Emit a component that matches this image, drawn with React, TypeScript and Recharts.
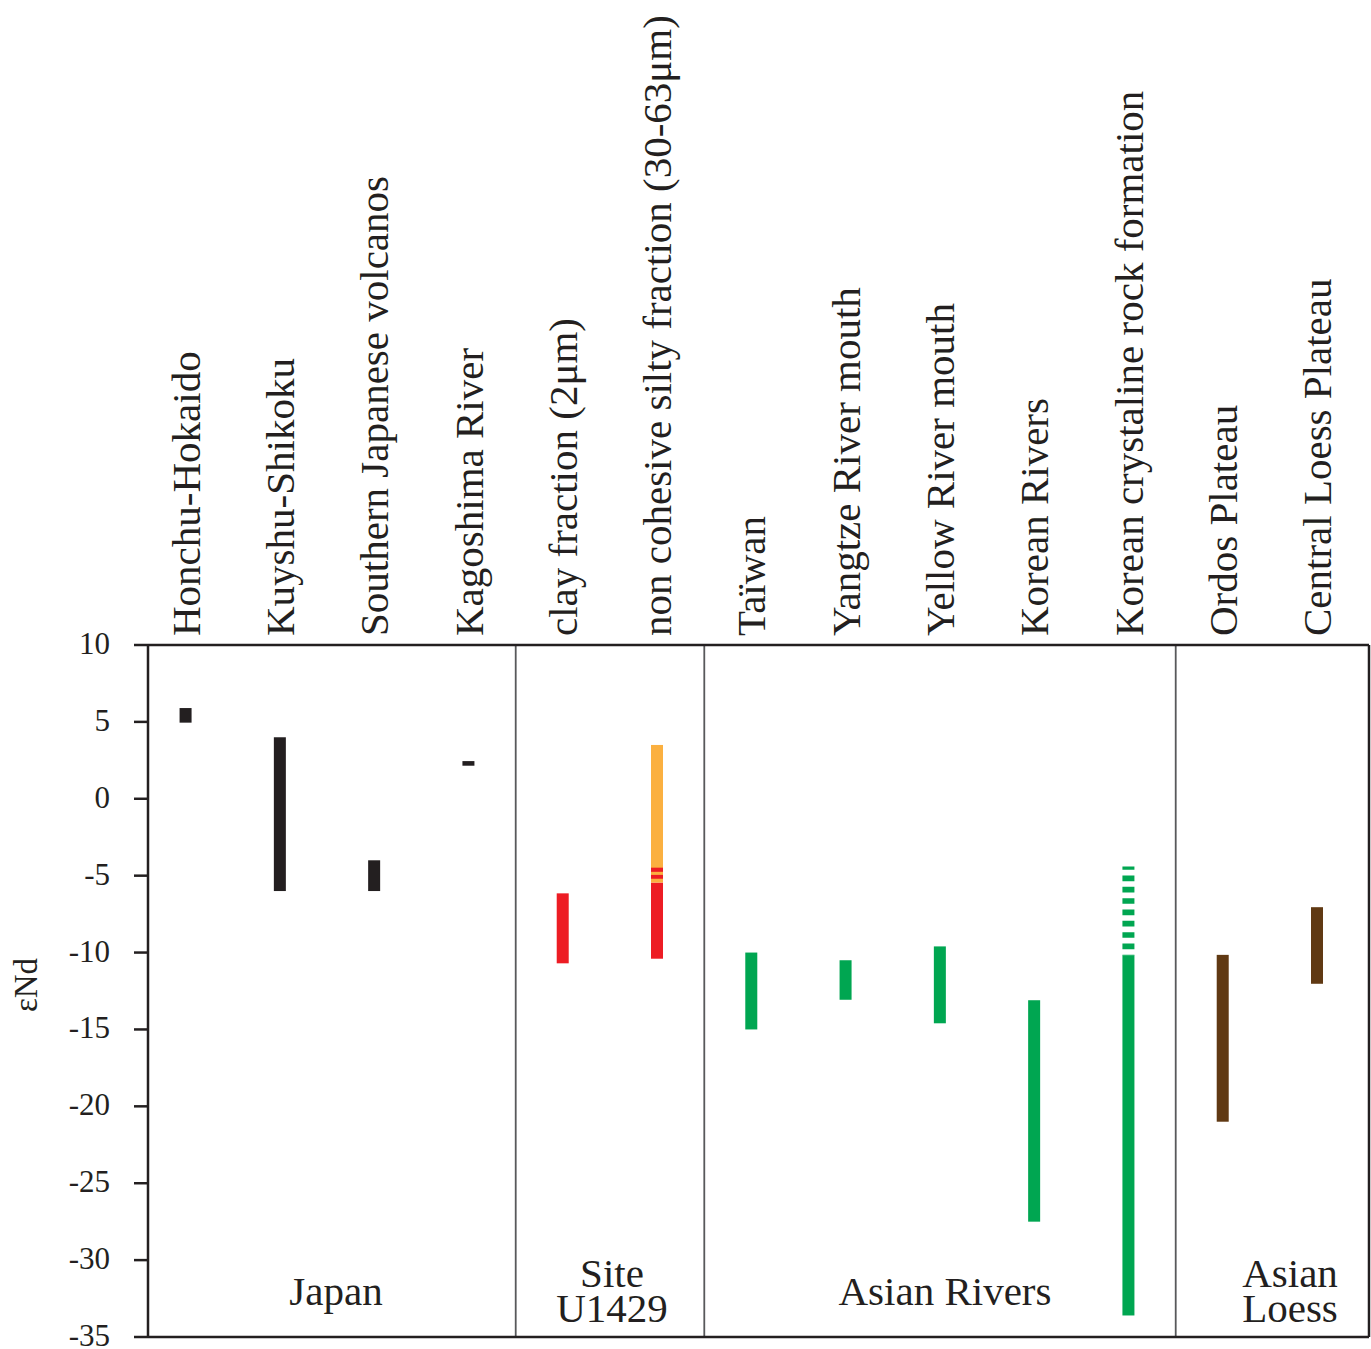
import { Bar, ComposedChart, ReferenceLine, XAxis, YAxis } from "recharts";

const categories = [
  "Honchu-Hokaido",
  "Kuyshu-Shikoku",
  "Southern Japanese volcanos",
  "Kagoshima River",
  "clay fraction (2μm)",
  "non cohesive silty fraction (30-63μm)",
  "Taïwan",
  "Yangtze River mouth",
  "Yellow River mouth",
  "Korean Rivers",
  "Korean crystaline rock formation",
  "Ordos Plateau",
  "Central Loess Plateau",
];

// solid part of each range (εNd)
const lows = [4.95, -6, -6, 2.15, -10.7, -10.4, -15, -13.07, -14.6, -27.5, -33.6, -21, -12.03];
const highs = [5.9, 4, -4, 2.45, -6.15, -5.45, -10, -10.5, -9.6, -13.1, -10.2, -10.15, -7.05];

const BLACK = "#231f20";
const RED = "#ed1c24";
const ORANGE = "#fbb040";
const GREEN = "#00a651";
const BROWN = "#603913";

const barColors = [
  BLACK, BLACK, BLACK, BLACK,
  RED, RED,
  GREEN, GREEN, GREEN, GREEN, GREEN,
  BROWN, BROWN,
];

// extra segments (only some categories have them)
const orangeSeg: ([number, number] | null)[] = [null, null, null, null, null, [-5.45, 3.5], null, null, null, null, null, null, null];
const stripeA: ([number, number] | null)[] = [null, null, null, null, null, [-4.75, -4.48], null, null, null, null, null, null, null];
const stripeB: ([number, number] | null)[] = [null, null, null, null, null, [-5.2, -4.95], null, null, null, null, null, null, null];
const dashedSeg: ([number, number] | null)[] = [null, null, null, null, null, null, null, null, null, null, [-10.2, -4.4], null, null];

const yTicks = [10, 5, 0, -5, -10, -15, -20, -25, -30, -35];
const xTicks = categories.map((_, i) => i);
const dividers = [3.5, 5.5, 10.5];

const groups = [
  { lines: ["Japan"], cx: 336 },
  { lines: ["Site", "U1429"], cx: 612 },
  { lines: ["Asian Rivers"], cx: 945 },
  { lines: ["Asian", "Loess"], cx: 1290 },
];

const data = categories.map((name, i) => ({
  x: i,
  name,
  main: [lows[i], highs[i]],
  orange: orangeSeg[i],
  stripeA: stripeA[i],
  stripeB: stripeB[i],
  dashed: dashedSeg[i],
}));

const FONT = '"Liberation Serif", "Times New Roman", serif';

function CategoryTick(props: any) {
  const { x, y, payload } = props;
  const label = categories[payload.value];
  return (
    <text
      x={x + 14}
      y={y}
      transform={`rotate(-90 ${x + 14} ${y})`}
      textAnchor="start"
      fontFamily={FONT}
      fontSize={41}
      fill={BLACK}
    >
      {label}
    </text>
  );
}

function ValueTick(props: any) {
  const { x, y, payload } = props;
  return (
    <text x={x} y={y + 9} textAnchor="end" fontFamily={FONT} fontSize={31} fill={BLACK}>
      {payload.value}
    </text>
  );
}

function segShape(key: string, color: string | null) {
  return (props: any) => {
    const { x, y, width, height, payload, index } = props;
    if (!payload || payload[key] == null) return <g />;
    return <rect x={x} y={y} width={width} height={height} fill={color ?? barColors[index]} />;
  };
}

function DashedShape(props: any) {
  const { x, y, width, height, payload } = props;
  if (!payload || payload.dashed == null) return <g />;
  return (
    <line
      x1={x + width / 2}
      x2={x + width / 2}
      y1={y}
      y2={y + height}
      stroke={GREEN}
      strokeWidth={width}
      strokeDasharray="5.67 5.67"
      strokeDashoffset={2.3}
    />
  );
}

export default function App() {
  return (
    <div style={{ position: "absolute", left: 0, top: 0, width: 1371, height: 1349, background: "#fff" }}>
      <ComposedChart
        width={1371}
        height={1349}
        data={data}
        margin={{ top: 5, right: 2, bottom: 12, left: 0 }}
        barGap={-12}
      >
        <XAxis
          dataKey="x"
          type="number"
          orientation="top"
          domain={[-0.4, 12.55]}
          allowDataOverflow
          ticks={xTicks}
          interval={0}
          tickLine={false}
          tickMargin={3}
          height={640}
          axisLine={{ stroke: BLACK, strokeWidth: 2.5 }}
          tick={<CategoryTick />}
        />
        <YAxis
          type="number"
          domain={[-35, 10]}
          allowDataOverflow
          ticks={yTicks}
          interval={0}
          width={148}
          tickSize={14}
          tickMargin={24}
          axisLine={{ stroke: BLACK, strokeWidth: 2.5 }}
          tickLine={{ stroke: BLACK, strokeWidth: 2.5 }}
          tick={<ValueTick />}
          label={{
            content: (p: any) => {
              const vb = p.viewBox;
              const lx = vb.x + 37;
              const ly = vb.y + vb.height / 2 - 6;
              return (
                <text
                  x={lx}
                  y={ly}
                  transform={`rotate(-90 ${lx} ${ly})`}
                  textAnchor="middle"
                  fontFamily={FONT}
                  fontSize={33}
                  fill={BLACK}
                >
                  εNd
                </text>
              );
            },
          }}
        />
        {dividers.map((d) => (
          <ReferenceLine key={d} x={d} stroke="#58595b" strokeWidth={1.8} />
        ))}
        <ReferenceLine x={12.55} stroke={BLACK} strokeWidth={2.5} />
        <ReferenceLine y={-35} stroke={BLACK} strokeWidth={2.5} />
        <Bar dataKey="main" barSize={12} isAnimationActive={false} shape={segShape("main", null)} />
        <Bar dataKey="orange" barSize={12} isAnimationActive={false} shape={segShape("orange", ORANGE)} />
        <Bar dataKey="stripeA" barSize={12} isAnimationActive={false} shape={segShape("stripeA", RED)} />
        <Bar dataKey="stripeB" barSize={12} isAnimationActive={false} shape={segShape("stripeB", RED)} />
        <Bar dataKey="dashed" barSize={12} isAnimationActive={false} shape={<DashedShape />} />
      </ComposedChart>
      <svg
        width={1371}
        height={1349}
        style={{ position: "absolute", left: 0, top: 0, pointerEvents: "none" }}
      >
        {groups.map((g) =>
          g.lines.map((line, li) => (
            <text
              key={g.cx + line}
              x={g.cx}
              y={g.lines.length === 1 ? 1305 : 1287 + li * 35}
              textAnchor="middle"
              fontFamily={FONT}
              fontSize={41}
              fill={BLACK}
            >
              {line}
            </text>
          )),
        )}
      </svg>
    </div>
  );
}
